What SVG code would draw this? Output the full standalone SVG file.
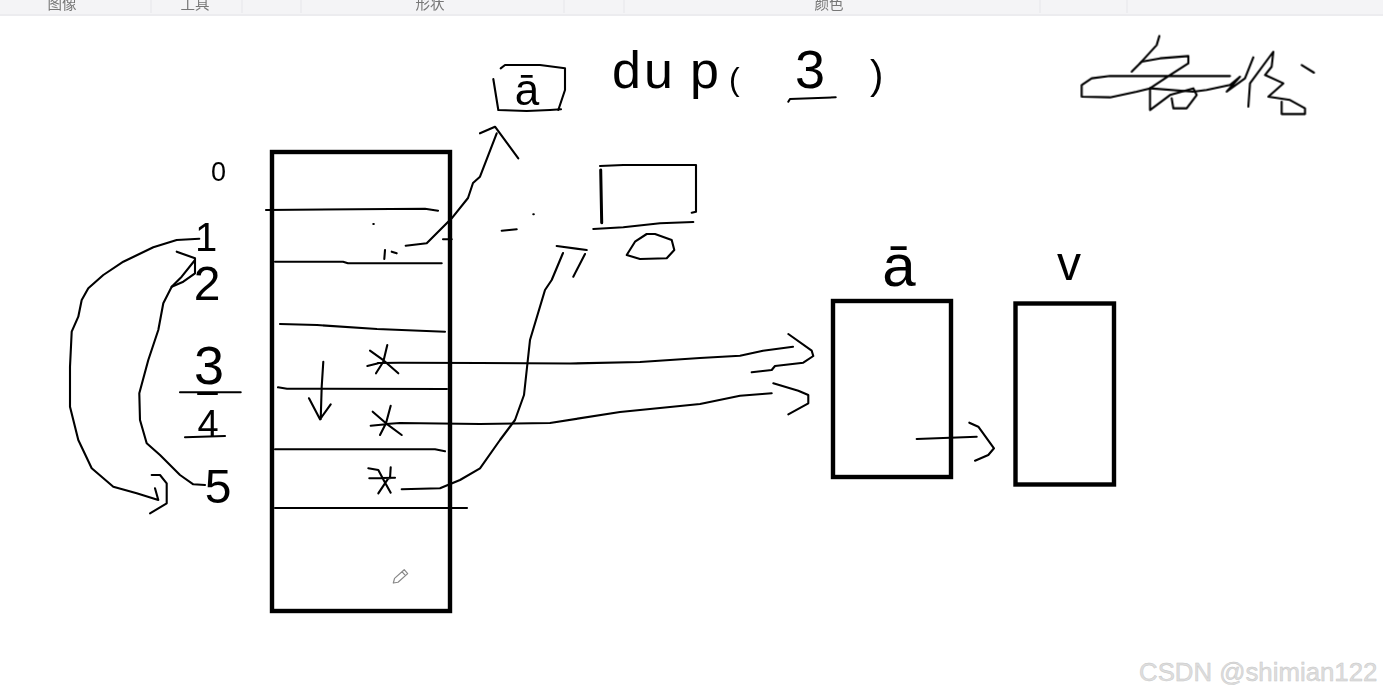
<svg xmlns="http://www.w3.org/2000/svg" width="1383" height="695" viewBox="0 0 1383 695">
<defs>
<filter id="soft" x="-5%" y="-5%" width="110%" height="110%"><feGaussianBlur stdDeviation="0.35"/></filter>
</defs>
<style>
.ink{fill:none;stroke:#000;stroke-width:2.1;stroke-linejoin:round;stroke-linecap:round}
.box{fill:none;stroke:#000;stroke-width:4.4}
.hand{font-family:"Liberation Sans",Arial,sans-serif;fill:#000;text-anchor:middle}
.tb{font-family:"Noto Sans CJK SC","Liberation Sans",sans-serif;font-size:14.5px;fill:#777;text-anchor:middle}
.sep{stroke:#e6e6ea;stroke-width:1}
.mark{font-family:"Liberation Sans",Arial,sans-serif;font-size:25.8px;fill:#dedede;stroke:#c6c6c6;stroke-width:.45}
</style>
<rect width="1383" height="695" fill="#fff"/>
<g id="toolbar" filter="url(#soft)">
<rect width="1383" height="14" fill="#f4f4f6"/>
<rect y="14" width="1383" height="2" fill="#ececef"/>
<path class="sep" d="M151 0V13M242 0V13M301 0V13M564 0V13M624 0V13M1040 0V13M1127 0V13"/>
<text class="tb" x="62" y="9">图像</text>
<text class="tb" x="195" y="9">工具</text>
<text class="tb" x="430" y="9">形状</text>
<text class="tb" x="829" y="9">颜色</text>
</g>
<g filter="url(#soft)">
<g id="fd-table">
<rect class="box" x="272" y="152" width="178" height="459"/>
<path class="ink" d="M266 210L425 208.7L438 210.7"/>
<path class="ink" d="M275 261.7L343 261.7L348 263.3L441.7 263.3"/>
<path class="ink" d="M280 324L317 325L377 329L445 331.7"/>
<path class="ink" d="M278 387.3L287 388.7L447 389"/>
<path class="ink" d="M275 449.3L435 449.3L445 451.3"/>
<path class="ink" d="M275 508L467 508"/>
<path class="ink" d="M373.3 224h.5M385 250L384.3 259M391.7 251.7L396.7 253.3M443 239.3L451.7 239.3"/>
<path class="ink" d="M323.3 361.7L321.7 386.7L320.7 419.3M309 398.3L320 419.3L330.7 404.3"/>
<path class="ink" d="M387.3 345L383.3 361.7L376 373.3M370 350.7L384 360.7L398.3 373.3M367.3 366L378.3 363.3"/>
<path class="ink" d="M390.7 405.7L386 423.3L380 435M372.7 411.7L386 423.3L401.7 435M370.7 425.7L386 424.3"/>
<path class="ink" d="M390.7 467.3L390 478.3M368.3 468.3L378.3 470L384 480.7L390.7 492.7M369.3 478.3L395 477.7M388.3 478.3L378.3 493.3"/>
<path d="M-9 0L-5 -2.6H8V2.6H-5ZM5 -2.6V2.6" transform="translate(400 577) rotate(-42)" fill="#fff" stroke="#888" stroke-width="1.2" stroke-linejoin="round"/>
</g>
<g id="fd-numbers">
<text class="hand" x="218.500" y="181" font-size="27">0</text>
<text class="hand" x="206" y="251" font-size="40">1</text>
<text class="hand" x="207" y="300" font-size="48">2</text>
<text class="hand" x="209" y="384" font-size="54">3</text>
<text class="hand" x="208" y="437" font-size="38">4</text>
<text class="hand" x="218" y="503" font-size="48">5</text>
<path class="ink" d="M180 392.300H240.700"/>
<path class="ink" stroke-width="3" d="M198 394H217"/>
<path class="ink" d="M185 437.300L225 436"/>
</g>
<g id="top-box">
<path class="ink" d="M500.700 68.300L505 65L540 65L565 68.300L565 90L558.300 110"/>
<path class="ink" d="M493.300 79L498.300 110L526.700 111L550 110L561 109.300"/>
<text class="hand" x="527" y="105" font-size="44">ā</text>
</g>
<g id="dup-call">
<text class="hand" style="text-anchor:start" y="88" font-size="52" x="612 644 690">dup<tspan x="729" y="90" font-size="32">(</tspan> <tspan x="795" y="88" font-size="54">3</tspan> <tspan x="870" y="89" font-size="40">)</tspan></text>
<path class="ink" d="M788.300 101.700L790 99L835.700 97.300"/>
</g>
<g id="scribble" transform="translate(1060 20) scale(.3333)">
<path class="ink" style="stroke-width:6.300" d="M510 168L150 168L95 175L65 195L65 230L150 232L230 215L270 205L330 165L385 130L385 108L300 115L245 125L215 155"/>
<path class="ink" style="stroke-width:6.300" d="M298 48L290 75L240 130"/>
<path class="ink" style="stroke-width:6.300" d="M270 205L270 270L330 225L400 205L410 225L380 265L340 265L335 235"/>
<path class="ink" style="stroke-width:6.300" d="M270 205L400 215L440 210L510 195L540 170L500 215L555 175L580 112"/>
<path class="ink" style="stroke-width:6.300" d="M565 260L570 190L640 95L635 140L615 165L670 190L625 230L690 240L735 265L735 282L665 282L665 245"/>
<path class="ink" style="stroke-width:6.300" d="M725 135L762 158"/>
</g>
<g id="small-box">
<path class="ink" d="M600 166L623.300 165L696 165L696 211.700L691.700 212.700"/>
<path class="ink" style="stroke-width:3" d="M600.700 170L601.700 222.700"/>
<path class="ink" d="M593.300 229L623.300 227.300L660 223.300L693.300 222"/>
<path class="ink" d="M646.700 234L635 241.700L626.700 255L640 259L666.700 258.300L674.300 250L671.700 240L655 234Z"/>
</g>
<g id="box-a">
<rect class="box" x="833" y="301" width="118" height="176"/>
<text class="hand" x="899" y="286" font-size="60">ā</text>
</g>
<g id="box-v">
<rect class="box" x="1015.500" y="303.500" width="98.500" height="181"/>
<text class="hand" x="1069" y="280" font-size="48">v</text>
</g>
<g id="connectors">
<path class="ink" d="M405.700 245.700L426.700 243.300L436.700 233.300L451.700 218.300L468 198L473 183L480 176.700L496.700 133.300"/>
<path class="ink" d="M480 133.300L495 126.700L518.300 158.300"/>
<path class="ink" d="M501.700 230.700L516.700 229.300M533.300 214.300h.5"/>
<path class="ink" d="M378 363L400 362.700L480 363L570 363.500L640 362L700 358L740 355.700L763 350.700L793 346.700"/>
<path class="ink" d="M788.300 334L811.700 350.700L813.300 356L803.300 362.700L775 366L771.700 370L751.700 372.300"/>
<path class="ink" d="M386 424L400 423L480 424L550 423L620 412L700 404L740 395.700L771.700 393.300"/>
<path class="ink" d="M773.300 383.300L798.300 390.700L808.300 395L808.300 403.300L788.300 414.300"/>
<path class="ink" d="M401.700 489.300L440 488.300L460 480L480 468.300L500 440L515 420L524 395L530 340L545 290L551.700 280L563 253"/>
<path class="ink" d="M556.700 246L586.700 250M585 254L573.300 276.700"/>
<path class="ink" d="M199.300 238.700L176.700 240L153.300 247.300L123.300 261.700L103.300 275L88.300 288.300L81.700 300L78.300 316.700L71.700 331.700L70 366.700L70 406.700L78.300 440L91.700 468.300L113.300 486.700L136.700 493.300L158.300 500L155 488.300"/>
<path class="ink" d="M151.700 475L160 475L166.700 483.300L166.700 503.300L150 513.300"/>
<path class="ink" d="M176.700 251.700L195 258.300L195 273.300L183.300 281.700L171.700 286.700"/>
<path class="ink" d="M195 260L181.700 276.700L171.700 286.700L163.300 303.300L158.300 330L148.300 360L139.300 393.300L140 420L146.700 443.300L160 455L180 475L193.300 484.300L205 485"/>
<path class="ink" d="M916.700 439L976.700 436.700"/>
<path class="ink" d="M969.300 422.700L978.300 426.700L994 448.300L988.300 455L975 460.700"/>
</g>
</g>
<text class="mark" x="1139" y="681">CSDN @shimian122</text>
</svg>
